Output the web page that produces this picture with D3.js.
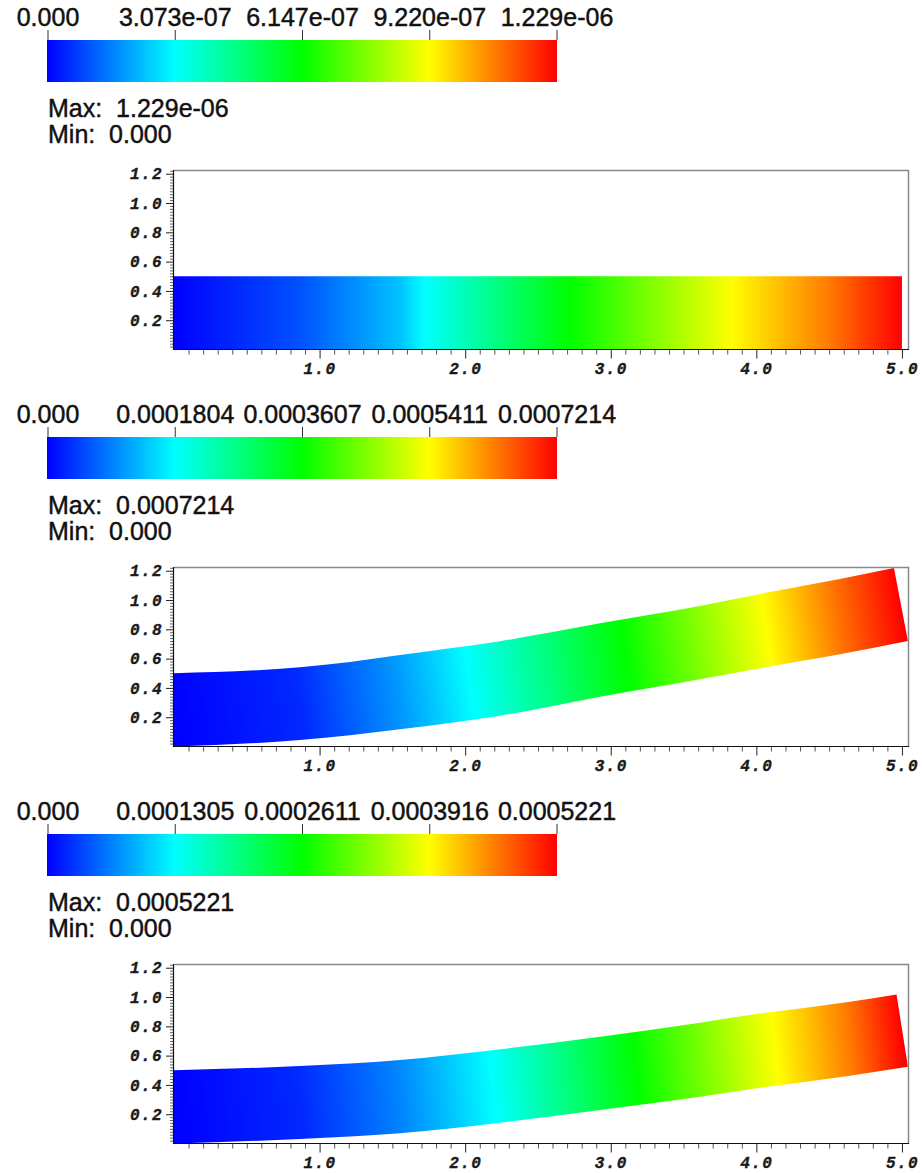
<!DOCTYPE html>
<html><head><meta charset="utf-8">
<script src="https://cdn.jsdelivr.net/npm/d3@7"></script>
<style>body{margin:0;background:#fff}</style>
</head><body><svg id="chart" width="922" height="1173"></svg>
<script>
// ---------------- data ----------------
const colorbarTicks1 = ["0.000","3.073e-07","6.147e-07","9.220e-07","1.229e-06"];
const colorbarTicks2 = ["0.000","0.0001804","0.0003607","0.0005411","0.0007214"];
const colorbarTicks3 = ["0.000","0.0001305","0.0002611","0.0003916","0.0005221"];
const maxLabels = ["1.229e-06","0.0007214","0.0005221"];
const minLabels = ["0.000","0.000","0.000"];
const xTickValues = [1,2,3,4,5];
const xTickLabels = ["1.0","2.0","3.0","4.0","5.0"];
const yTickValues = [0.2,0.4,0.6,0.8,1.0,1.2];
const yTickLabels = ["0.2","0.4","0.6","0.8","1.0","1.2"];
const colormapColors = ["#0000ff","#00ffff","#00ff00","#ffff00","#ff0000"];
const colormapKnots = [0,0.25,0.5,0.75,1];

// beam 1 (practically undeformed)
const topX1 = [0, 5.0];
const topY1 = [0.5, 0.5];
const botX1 = [0, 5.0];
const botY1 = [0, 0];
const colorX1 = [0, 0.87, 1.55, 1.72, 2.72, 3.83, 4.5, 5.0];
const colorV1 = [0, 0.08, 0.19, 0.25, 0.5, 0.75, 0.88, 1.0];

// beam 2 (deformed)
const topX2 = [0, 0.865, 1.209, 1.552, 2.239, 2.926, 3.613, 4.025, 4.574, 4.945];
const topY2 = [0.5, 0.541, 0.577, 0.625, 0.719, 0.841, 0.959, 1.041, 1.143, 1.218];
const botX2 = [0, 0.865, 1.209, 1.552, 2.239, 2.926, 3.613, 4.025, 4.574, 5.041];
const botY2 = [0, 0.044, 0.076, 0.117, 0.210, 0.340, 0.459, 0.534, 0.629, 0.720];
const colorX2 = [0, 0.87, 1.55, 2.03, 3.10, 4.07, 4.57, 5.0];
const colorV2 = [0, 0.04, 0.15, 0.25, 0.5, 0.75, 0.89, 1.0];

// beam 3 (deformed)
const topX3 = [0, 0.865, 1.552, 2.239, 2.926, 3.613, 3.956, 4.643, 4.963];
const topY3 = [0.5, 0.529, 0.570, 0.643, 0.729, 0.825, 0.877, 0.968, 1.018];
const botX3 = [0, 0.865, 1.552, 2.239, 2.926, 3.613, 3.956, 4.643, 5.041];
const botY3 = [0, 0.031, 0.070, 0.142, 0.229, 0.319, 0.370, 0.463, 0.524];
const colorX3 = [0, 0.87, 1.55, 2.19, 3.17, 4.13, 4.64, 5.0];
const colorV3 = [0, 0.04, 0.13, 0.25, 0.5, 0.75, 0.88, 1.0];

// ---------------- layout ----------------
const panels = [
  {cb: colorbarTicks1, max: maxLabels[0], min: minLabels[0], tx: topX1, ty: topY1, bx: botX1, by: botY1, cx: colorX1, cv: colorV1},
  {cb: colorbarTicks2, max: maxLabels[1], min: minLabels[1], tx: topX2, ty: topY2, bx: botX2, by: botY2, cx: colorX2, cv: colorV2},
  {cb: colorbarTicks3, max: maxLabels[2], min: minLabels[2], tx: topX3, ty: topY3, bx: botX3, by: botY3, cx: colorX3, cv: colorV3}
];
const panelStep = 397;
const sansFont = "'Liberation Sans', Arial, sans-serif";
const monoFont = "'Liberation Mono', 'Courier New', monospace";

const svg = d3.select("#chart");
const defs = svg.append("defs");
const colormap = d3.scaleLinear().domain(colormapKnots).range(colormapColors);

const cbGrad = defs.append("linearGradient").attr("id","cbgrad")
  .attr("x1","0").attr("x2","1").attr("y1","0").attr("y2","0");
colormapKnots.forEach((k,i)=>cbGrad.append("stop").attr("offset",k).attr("stop-color",colormapColors[i]));

const x = d3.scaleLinear().domain([0, 5.045]).range([174, 908.5]);
const y = d3.scaleLinear().domain([0, 1.222]).range([349.5, 170.5]);
const cbScale = d3.scaleLinear().domain([0,1]).range([47.5, 556.5]);

function styleSans(sel) {
  sel.attr("font-family",sansFont).attr("font-size",25).attr("fill","#111")
     .attr("stroke","#111").attr("stroke-width",0.45);
}
function styleMono(sel) {
  sel.attr("font-family",monoFont).attr("font-weight","bold").attr("font-style","italic")
     .attr("font-size",16).attr("letter-spacing","1.4px").attr("fill","#1a1a1a")
     .attr("stroke","#1a1a1a").attr("stroke-width",0.35);
}

panels.forEach((p, i) => {
  const g = svg.append("g").attr("transform", `translate(0,${i*panelStep})`);

  // ---- colorbar ----
  g.append("rect").attr("x",47).attr("y",40).attr("width",510).attr("height",42)
    .attr("fill","url(#cbgrad)");
  const cbAxis = d3.axisTop(cbScale).tickValues(colormapKnots)
    .tickFormat((d,j)=>p.cb[j]).tickSize(10).tickPadding(4);
  const cbg = g.append("g").attr("transform","translate(0,40)").call(cbAxis);
  cbg.select(".domain").remove();
  cbg.selectAll("line").attr("stroke","#333");
  styleSans(cbg.selectAll("text"));

  styleSans(g.append("text").attr("x",48).attr("y",117).style("white-space","pre").text("Max:  " + p.max));
  styleSans(g.append("text").attr("x",48).attr("y",143).style("white-space","pre").text("Min:  " + p.min));

  // ---- beam ----
  const topInterp = d3.scaleLinear().domain(p.tx).range(p.ty).clamp(true);
  const botInterp = d3.scaleLinear().domain(p.bx).range(p.by).clamp(true);
  const idx = d3.range(p.tx.length);
  const area = d3.area()
    .x1(j => x(p.tx[j])).y1(j => y(p.ty[j]))
    .x0(j => x(p.bx[j])).y0(j => y(p.by[j]))
    .curve(d3.curveMonotoneX);
  const endX = (p.tx[p.tx.length-1] + p.bx[p.bx.length-1]) / 2;
  const endY = (p.ty[p.ty.length-1] + p.by[p.by.length-1]) / 2;
  const A = [x(0), y((p.ty[0]+p.by[0])/2)];
  const B = [x(endX), y(endY)];
  const dx = B[0]-A[0], dy = B[1]-A[1], L2 = dx*dx+dy*dy;
  const grad = defs.append("linearGradient").attr("id","beam"+i)
    .attr("gradientUnits","userSpaceOnUse")
    .attr("x1",A[0]).attr("y1",A[1]).attr("x2",B[0]).attr("y2",B[1]);
  p.cx.forEach((c,j)=>{
    const px = x(c), py = y((topInterp(c)+botInterp(c))/2);
    let off = ((px-A[0])*dx + (py-A[1])*dy) / L2;
    off = Math.max(0, Math.min(1, off));
    grad.append("stop").attr("offset", off).attr("stop-color", colormap(p.cv[j]));
  });
  g.append("path").attr("d", area(idx)).attr("fill", `url(#beam${i})`);

  // ---- frame ----
  g.append("line").attr("x1",174).attr("x2",909).attr("y1",170.5).attr("y2",170.5)
    .attr("stroke","#888").attr("stroke-width",1.5);
  g.append("line").attr("x1",908.5).attr("x2",908.5).attr("y1",170).attr("y2",350)
    .attr("stroke","#888").attr("stroke-width",1.5);

  // ---- x axis ----
  const xMinor = d3.range(1, 51).filter(d => d % 10 !== 0).map(d => d/10);
  const xm = g.append("g").attr("transform","translate(0,349.5)")
    .call(d3.axisBottom(x).tickValues(xMinor).tickSize(5).tickFormat(""));
  xm.select(".domain").remove();
  xm.selectAll("line").attr("stroke","#555");
  const xM = g.append("g").attr("transform","translate(0,349.5)")
    .call(d3.axisBottom(x).tickValues(xTickValues).tickSize(9).tickFormat((d,j)=>xTickLabels[j]));
  xM.select(".domain").remove();
  xM.selectAll("line").attr("stroke","#222");
  styleMono(xM.selectAll("text").attr("y",24.5).attr("dy","0"));

  // ---- y axis ----
  const yMinor = d3.range(1, 62).filter(d => d % 10 !== 0).map(d => d/50);
  const ym = g.append("g").attr("transform","translate(174,0)")
    .call(d3.axisLeft(y).tickValues(yMinor).tickSize(4).tickFormat(""));
  ym.select(".domain").remove();
  ym.selectAll("line").attr("stroke","#666");
  const yM = g.append("g").attr("transform","translate(174,0)")
    .call(d3.axisLeft(y).tickValues(yTickValues).tickSize(8).tickFormat((d,j)=>yTickLabels[j]));
  yM.select(".domain").remove();
  yM.selectAll("line").attr("stroke","#222");
  styleMono(yM.selectAll("text").attr("x",-11));

  g.append("line").attr("x1",173.5).attr("x2",173.5).attr("y1",170).attr("y2",350)
    .attr("stroke","#111").attr("stroke-width",1.2);
  g.append("line").attr("x1",173).attr("x2",909).attr("y1",349.5).attr("y2",349.5)
    .attr("stroke","#111").attr("stroke-width",1.2);
});
</script>
</body></html>
